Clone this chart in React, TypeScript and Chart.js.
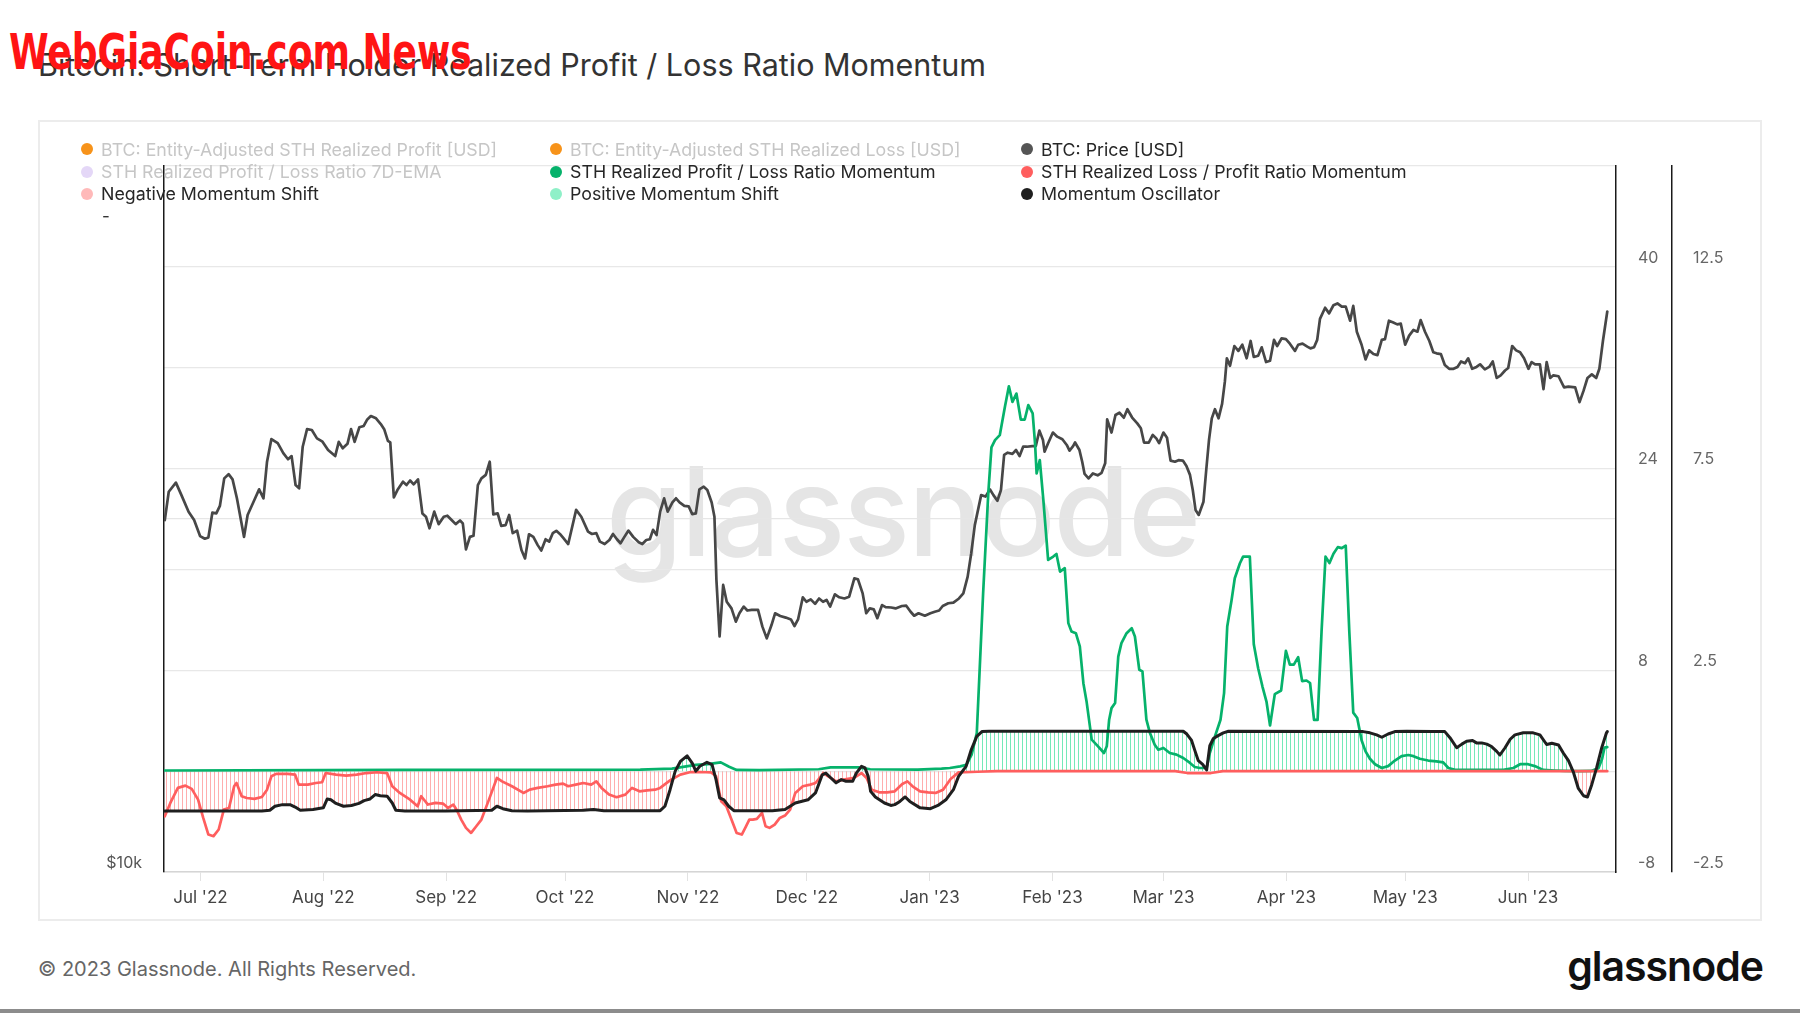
import React, { useEffect, useRef } from 'react';
import { Chart, registerables } from 'chart.js';

Chart.register(...registerables);

const FONT = 'Inter, "Noto Sans", sans-serif';

// x axis: day offset from 2022-06-22
const monthTickDays = [9, 40, 71, 101, 132, 162, 193, 224, 252, 283, 313, 344];
const monthTickLabels = ["Jul '22", "Aug '22", "Sep '22", "Oct '22", "Nov '22", "Dec '22", "Jan '23", "Feb '23", "Mar '23", "Apr '23", "May '23", "Jun '23"];

const priceTickValues = [10000, 20000, 40000];
const priceTickLabels = ['$10k', '', ''];
const ratioTickLabels = ['-8', '8', '24', '40'];
const oscTickLabels = ['-2.5', '2.5', '7.5', '12.5'];

// BTC: Price [USD]
const priceDays = [0, 1.0, 2.8, 4.2, 6.0, 7.4, 8.9, 10.1, 11.0, 12.0, 13.0, 13.9, 15.0, 16.1, 17.1, 18.2, 20.0, 20.9, 22.4, 23.8, 24.9, 25.8, 26.9, 28.5, 29.9, 31.1, 32.0, 33.0, 33.9, 34.8, 35.9, 37.1, 38.4, 39.8, 41.2, 43.0, 43.9, 44.9, 46.1, 47.0, 47.9, 49.1, 50.2, 51.1, 52.0, 53.3, 54.5, 55.4, 56.3, 56.9, 57.8, 58.7, 60.1, 61.0, 61.9, 62.8, 63.9, 65.0, 65.9, 66.8, 68.0, 69.1, 70.4, 71.3, 72.5, 73.4, 74.5, 75.2, 76.0, 77.0, 77.9, 79.0, 79.9, 81.0, 82.0, 82.9, 84.0, 84.9, 86.0, 86.9, 87.8, 88.9, 90.0, 90.9, 91.9, 93.0, 94.1, 95.0, 96.1, 97.0, 97.9, 98.8, 99.7, 100.6, 101.8, 103.8, 105.1, 106.8, 107.8, 108.9, 109.8, 111.0, 112.2, 113.1, 114.1, 115.0, 115.9, 117.0, 118.2, 119.6, 120.5, 121.5, 122.4, 123.2, 124.1, 125.0, 126.0, 126.9, 128.1, 129.0, 129.9, 131.1, 132.2, 133.1, 134.0, 134.9, 136.0, 136.9, 138.0, 138.7, 139.2, 140.0,
  140.9, 141.8, 143.0, 144.1, 145.0, 146.1, 147.0, 148.1, 149.7, 150.8, 151.9, 153.1, 154.0, 155.3, 156.7, 158.0, 158.9, 159.8, 161.0, 161.9, 163.0, 164.1, 165.1, 166.1, 167.0, 167.9, 169.1, 170.2, 171.5, 172.7, 174.0, 174.9, 176.1, 177.0, 177.9, 178.9, 179.8, 181.0, 181.9, 183.3, 184.4, 186.0, 187.1, 188.2, 189.1, 190.2, 191.8, 193.2, 194.3, 195.4, 196.3, 197.7, 199.0, 200.4, 201.5, 202.6, 203.5, 204.4, 206.0, 207.1, 208.2, 209.1, 210.1, 211.0, 211.8, 212.7, 213.9, 214.8, 215.7, 216.6, 217.5, 218.9, 219.8, 220.7, 221.6, 222.0, 222.9, 224.1, 225.2, 226.5, 227.6, 228.3, 229.2, 229.7, 230.8, 231.5, 232.1, 233.1, 234.2, 235.4, 236.4, 237.3, 237.8, 238.9, 239.9, 240.9, 242.0, 242.9, 244.1, 245.4, 246.3, 247.1, 248.3, 249.3, 250.2, 250.9, 252.0, 252.9, 253.8, 254.9, 255.8, 256.9, 257.8, 258.7, 259.4, 260.1, 260.9, 262.1, 262.8, 263.5, 264.2, 265.0, 265.9, 266.8, 267.5,
  268.0, 268.8, 269.9, 270.9, 271.9, 273.0, 274.0, 274.8, 275.9, 276.8, 277.9, 278.9, 279.9, 280.7, 281.8, 282.9, 283.9, 285.2, 286.0, 287.1, 288.3, 289.1, 290.0, 290.8, 291.5, 292.8, 293.8, 294.9, 295.9, 297.0, 298.0, 299.1, 299.9, 300.8, 302.0, 303.0, 303.9, 305.0, 306.0, 307.1, 307.9, 308.9, 310.0, 311.0, 311.9, 313.0, 314.0, 315.1, 316.1, 316.9, 318.0, 319.1, 320.1, 320.9, 322.0, 323.0, 324.1, 325.2, 326.2, 327.1, 328.1, 328.9, 329.9, 331.0, 331.9, 333.1, 334.2, 335.1, 336.1, 337.1, 338.2, 339.0, 340.0, 341.0, 342.0, 343.0, 344.1, 344.9, 345.8, 347.0, 347.9, 348.7, 349.6, 350.4, 351.7, 353.1, 354.2, 355.9, 357.0, 358.0, 359.0, 360.1, 361.2, 362.0, 362.9, 364.0];
const priceValues = [19960, 21100, 21480, 20960, 20290, 19960, 19340, 19240, 19290, 20250, 20220, 20520, 21660, 21840, 21620, 20830, 19310, 20160, 20690, 21200, 20830, 22380, 23400, 23210, 22760, 22490, 22630, 21380, 21240, 23050, 23860, 23820, 23430, 23280, 22900, 22630, 23270, 22980, 23180, 23860, 23270, 23950, 24010, 24320, 24480, 24370, 24100, 23840, 23320, 23250, 20870, 21170, 21520, 21380, 21570, 21410, 21620, 20220, 20090, 19640, 20290, 19800, 20090, 20130, 19940, 19800, 19940, 19830, 18840, 19310, 19350, 21380, 21660, 21810, 22380, 20180, 20220, 19730, 19760, 20160, 19450, 19550, 18820, 18510, 19410, 19310, 19000, 18800, 19220, 19130, 19450, 19540, 19420, 19260, 19040, 20360, 20090, 19510, 19420, 19450, 19130, 19040, 19190, 19420, 19220, 19070, 19290, 19550, 19310, 19110, 19040, 19190, 19220, 19580, 19380, 20290, 20830, 20290, 20660, 20830, 20660, 20520, 20500, 20190, 20220, 21200, 21310, 21170, 20660, 20090, 17740, 15880,
  17570, 17000, 16780, 16350, 16620, 16840, 16710, 16730, 16730, 16190, 15820, 16240, 16620, 16530, 16480, 16420, 16210, 16420, 17150, 17000, 17080, 16930, 17110, 17000, 17060, 16840, 17250, 17150, 17110, 17170, 17800, 17770, 17280, 16620, 16780, 16750, 16460, 16890, 16820, 16810, 16780, 16860, 16870, 16670, 16540, 16620, 16540, 16620, 16670, 16710, 16860, 16950, 16970, 17110, 17280, 17860, 18700, 19760, 20960, 20900, 21200, 20960, 20730, 21170, 22680, 22780, 22730, 22900, 22630, 23050, 23050, 23080, 23080, 23790, 23360, 22830, 23210, 23700, 23510, 23390, 23130, 22870, 23080, 23240, 22900, 22380, 21850, 21660, 21870, 21790, 21900, 22310, 24320, 23700, 24530, 24640, 24400, 24810, 24410, 24130, 23900, 23240, 23240, 23590, 23430, 23210, 23700, 23460, 22430, 22380, 22450, 22430, 22190, 21810, 21170, 20360, 20160, 20690, 22020, 23360, 24370, 24810, 24370, 25070, 26190,
  27420, 27020, 28090, 27820, 28160, 27420, 28370, 27490, 27560, 28020, 27220, 27290, 28430, 28090, 28510, 28470, 28220, 27820, 28160, 28220, 28060, 27960, 28020, 28430, 29630, 30280, 29950, 30430, 30540, 30350, 30350, 29520, 30390, 28890, 28160, 27360, 27850, 27650, 27590, 28430, 28470, 29520, 29420, 29310, 29350, 28160, 28670, 28990, 28890, 29560, 28890, 28370, 27750, 27690, 27650, 27060, 26860, 26860, 26960, 27250, 27160, 27420, 26860, 26960, 27100, 26830, 26960, 27250, 26380, 26520, 26770, 26900, 28090, 27850, 27750, 27420, 26860, 27220, 27100, 27100, 25810, 27220, 26380, 26520, 26470, 25900, 25940, 25900, 25160, 25720, 26380, 26570, 26380, 26860, 28370, 30060];

// STH Realized Profit / Loss Ratio Momentum
const profitDays = [0, 60, 120, 128, 134, 137, 140.3, 142.4, 144.3, 150, 165, 168, 175, 178, 190, 196, 198.1, 200.7, 202.3, 203.6, 204.9, 206.5, 207.8, 208.6, 209.5, 210.7, 212.0, 213.0, 213.9, 214.9, 216.0, 217.0, 217.9, 219.0, 219.6, 220.0, 220.8, 221.7, 222.9, 224.2, 225.0, 225.9, 227.1, 228.0, 228.8, 229.9, 230.9, 231.8, 232.6, 233.9, 235.5, 237.0, 237.7, 238.3, 238.9, 239.8, 240.6, 241.4, 242.7, 244.0, 244.8, 245.9, 246.7, 247.7, 248.6, 249.8, 250.7, 252.0, 253.6, 255.3, 257.0, 258.7, 259.9, 261.2, 262.9, 263.7, 265.0, 266.4, 267.3, 268.1, 269.2, 270.0, 271.3, 272.1, 273.8, 274.8, 275.9, 277.0, 278.0, 278.9, 280.1, 281.7, 282.9, 283.9, 284.9, 286.0, 287.0, 288.1, 289.0, 290.0, 290.9, 291.9, 292.9, 293.9, 294.9, 296.0, 297.0, 298.0, 298.9, 299.9, 300.9, 302.0, 303.0, 304.1, 305.4, 307.1, 308.7, 310.4, 312.1, 313.8, 315.1, 316.7, 318.8, 320.9, 322.6, 323.9, 325.6, 329.4, 333.6, 337.8, 340.3, 342.0, 344.0, 345.7, 347.8, 350.7, 353.2, 356.6, 360.0, 361.8, 362.7, 363.3, 364.0];
const profitValues = [0.05, 0.1, 0.12, 0.2, 0.5, 0.55, 0.7, 0.35, 0.1, 0.08, 0.15, 0.3, 0.3, 0.15, 0.12, 0.2, 0.25, 0.38, 0.51, 1.31, 3.02, 14.11, 22.03, 25.68, 26.26, 26.65, 28.9, 30.53, 29.29, 29.95, 27.89, 27.89, 29.03, 28.37, 25.99, 23.62, 24.67, 21.5, 16.75, 17.02, 17.23, 15.83, 16.1, 11.74, 11.08, 10.94, 9.89, 6.98, 5.53, 2.5, 1.97, 1.44, 1.97, 4.08, 5.0, 5.4, 9.08, 10.15, 10.94, 11.34, 10.68, 8.04, 7.91, 4.08, 3.02, 2.1, 1.7, 1.84, 1.44, 1.31, 1.04, 0.65, 0.33, 0.25, 0.25, 1.44, 2.76, 4.08, 6.19, 11.47, 13.58, 15.3, 16.49, 17.02, 17.01, 10.07, 8.16, 6.69, 5.52, 3.62, 6.11, 6.4, 9.54, 8.45, 8.45, 9.04, 7.14, 7.19, 6.99, 4.06, 4.06, 11.09, 17.01, 16.51, 17.24, 17.77, 17.69, 17.89, 11.09, 4.64, 4.21, 2.45, 1.57, 0.98, 0.55, 0.25, 0.4, 0.84, 1.19, 1.28, 1.19, 0.98, 0.84, 0.78, 0.69, 0.25, 0.1, 0.1, 0.1, 0.1, 0.25, 0.55, 0.55, 0.4, 0.1, 0.05, 0.02, 0, 0.02, 0.25, 0.98, 1.86, 1.9];

// STH Realized Loss / Profit Ratio Momentum
const lossDays = [0, 1.4, 3.3, 5.2, 6.8, 8.4, 9.7, 11.0, 12.3, 13.6, 14.9, 16.2, 17.5, 18.1, 19.4, 20.7, 22.6, 24.5, 25.8, 26.9, 28.1, 31.0, 32.9, 33.8, 36.1, 38.1, 39.7, 40.6, 43.2, 45.8, 48.4, 50.9, 53.5, 56.1, 57.4, 59.3, 61.9, 63.8, 64.7, 66.4, 68.3, 70.2, 71.5, 72.8, 73.7, 74.8, 76.0, 77.3, 78.6, 79.9, 81.8, 83.8, 85.1, 87.6, 90.5, 92.1, 94.1, 96.6, 98.6, 100.5, 101.8, 103.7, 105.6, 107.6, 108.9, 110.2, 112.1, 114.0, 116.2, 117.9, 119.8, 121.7, 123.7, 125.0, 127.5, 130.1, 132.7, 135.3, 137.8, 139.1, 140.4, 141.7, 143.0, 144.3, 145.6, 146.6, 147.5, 148.4, 149.4, 150.7, 151.6, 152.6, 153.9, 155.2, 156.5, 157.8, 159.1, 161.0, 162.9, 164.2, 166.2, 167.4, 169.4, 171.3, 173.9, 175.8, 177.1, 178.4, 180.3, 182.3, 184.2, 186.1, 187.4, 188.7, 190.6, 192.6, 194.5, 196.4, 198.3, 200.3, 205, 210, 255, 258, 264, 267, 364];
const lossValues = [-3.58, -2.52, -1.33, -1.15, -1.41, -2.26, -3.71, -5.03, -5.16, -4.63, -3.05, -2.92, -1.2, -0.94, -1.99, -2.13, -2.2, -2.05, -1.47, -0.41, -0.22, -0.22, -0.28, -1.07, -1.07, -0.94, -0.88, -0.15, -0.28, -0.36, -0.28, -0.15, -0.09, -0.15, -1.2, -1.73, -2.26, -2.79, -1.99, -2.65, -2.52, -2.57, -2.92, -2.65, -3.1, -3.84, -4.5, -4.9, -4.37, -3.84, -2.26, -0.54, -0.81, -1.2, -1.73, -1.47, -1.33, -1.2, -1.07, -0.99, -1.2, -1.07, -0.94, -1.07, -0.81, -1.33, -1.86, -2.07, -1.86, -1.33, -1.6, -1.52, -1.47, -1.33, -0.73, -0.28, -0.07, -0.07, -0.09, -0.41, -2.39, -2.79, -3.84, -4.9, -5.03, -4.42, -3.84, -3.84, -3.79, -3.31, -4.37, -4.5, -4.24, -3.71, -3.52, -3.05, -1.73, -1.2, -1.07, -0.94, -0.15, -0.41, -0.81, -0.67, -0.54, -0.15, -0.54, -1.47, -1.68, -1.68, -1.6, -1.02, -0.81, -1.2, -1.6, -1.68, -1.73, -1.47, -0.62, -0.1, -0.05, 0, 0, -0.15, -0.15, 0, 0];

// Momentum Oscillator (Positive / Negative Momentum Shift = area between it and zero)
const oscDays = [0, 24.5, 26.5, 27.8, 29.7, 31.6, 32.9, 34.2, 37.4, 40.0, 41.0, 41.9, 43.2, 45.1, 47.1, 49.0, 50.3, 51.8, 53.1, 54.4, 56.1, 57.4, 58.3, 60.6, 70.9, 82.5, 83.8, 85.3, 87.6, 91.5, 105.6, 108.2, 110.8, 125.0, 126.2, 127.5, 128.8, 130.1, 131.8, 133.1, 134.0, 135.0, 136.8, 138.1, 139.1, 140.0, 141.1, 142.3, 143.6, 153.3, 156.5, 159.1, 162.3, 164.2, 165.9, 166.8, 168.1, 169.4, 170.7, 171.9, 173.6, 174.5, 175.8, 176.7, 177.5, 178.1, 179.3, 181.6, 183.2, 184.2, 185.5, 186.8, 188.0, 190.6, 193.2, 195.1, 197.1, 199.0, 200.3, 202.2, 203.5, 204.9, 206.2, 208.0, 257.0, 257.9, 259.1, 260.0, 260.8, 261.9, 262.9, 263.7, 264.6, 265.8, 267.1, 268.4, 302.4, 304.1, 305.8, 307.1, 308.7, 310.4, 313.4, 320.1, 323.0, 324.3, 326.0, 327.3, 328.5, 330.0, 331.0, 332.3, 333.6, 334.8, 336.1, 336.9, 338.2, 339.5, 340.7, 342.8, 345.3, 347.0, 348.7, 350.0, 351.7, 352.9, 354.2, 355.4, 356.7, 358.0, 359.0, 360.1, 361.3, 362.6, 363.8, 364.0];
const oscValues = [-0.99, -0.99, -0.97, -0.87, -0.83, -0.83, -0.89, -0.97, -0.95, -0.91, -0.69, -0.71, -0.8, -0.87, -0.85, -0.8, -0.73, -0.69, -0.58, -0.61, -0.62, -0.79, -0.97, -0.99, -0.99, -0.97, -0.87, -0.93, -0.98, -0.99, -0.97, -0.95, -0.98, -0.98, -0.87, -0.46, 0.0, 0.24, 0.38, 0.2, 0.0, 0.12, 0.22, 0.16, -0.21, -0.66, -0.71, -0.87, -0.98, -0.98, -0.95, -0.79, -0.71, -0.54, -0.09, -0.05, -0.17, -0.29, -0.21, -0.25, -0.25, -0.05, 0.12, 0.08, -0.13, -0.5, -0.64, -0.79, -0.85, -0.83, -0.75, -0.64, -0.75, -0.91, -0.93, -0.85, -0.71, -0.46, -0.13, 0.12, 0.53, 0.86, 0.98, 0.99, 0.99, 0.92, 0.76, 0.49, 0.26, 0.17, 0.03, 0.63, 0.81, 0.88, 0.95, 0.99, 0.98, 0.95, 0.9, 0.84, 0.92, 0.98, 0.99, 0.98, 0.98, 0.83, 0.58, 0.67, 0.74, 0.76, 0.7, 0.7, 0.67, 0.61, 0.49, 0.4, 0.58, 0.79, 0.9, 0.95, 0.95, 0.9, 0.66, 0.69, 0.65, 0.45, 0.26, -0.01, -0.43, -0.61, -0.64, -0.33, 0.08, 0.58, 0.95, 0.98];

const legendItems = [
  { label: 'BTC: Entity-Adjusted STH Realized Profit [USD]', color: '#f7931a', hidden: true },
  { label: 'BTC: Entity-Adjusted STH Realized Loss [USD]', color: '#f7931a', hidden: true },
  { label: 'BTC: Price [USD]', color: '#555555', hidden: false },
  { label: 'STH Realized Profit / Loss Ratio 7D-EMA', color: '#e4d7f7', hidden: true },
  { label: 'STH Realized Profit / Loss Ratio Momentum', color: '#06b26b', hidden: false },
  { label: 'STH Realized Loss / Profit Ratio Momentum', color: '#ff5e5e', hidden: false },
  { label: 'Negative Momentum Shift', color: '#ffb9b9', hidden: false },
  { label: 'Positive Momentum Shift', color: '#8ff0c8', hidden: false },
  { label: 'Momentum Oscillator', color: '#1f1f1f', hidden: false },
];

const toPoints = (xs: number[], ys: number[]) => xs.map((x, i) => ({ x, y: ys[i] }));

export default function App() {
  const canvasRef = useRef<HTMLCanvasElement>(null);

  useEffect(() => {
    const canvas = canvasRef.current;
    if (!canvas) return;
    const ctx = canvas.getContext('2d')!;
    const makeHatch = (color: string) => {
      const c = document.createElement('canvas');
      c.width = 4;
      c.height = 8;
      const g = c.getContext('2d')!;
      g.fillStyle = color;
      g.fillRect(0, 0, 1, 8);
      return ctx.createPattern(c, 'repeat')!;
    };
    const mint = makeHatch('rgba(110, 232, 180, 0.95)');
    const pink = makeHatch('rgba(255, 165, 165, 0.9)');

    const labelFont = { family: FONT, size: 16 };

    const chart = new Chart(canvas, {
      type: 'line',
      data: {
        datasets: [
          {
            label: 'Momentum Oscillator',
            data: toPoints(oscDays, oscValues),
            yAxisID: 'y2',
            borderColor: '#1f1f1f',
            borderWidth: 3,
            pointRadius: 0,
            fill: { target: { value: 0 }, above: mint, below: pink },
            order: 0,
          },
          {
            label: 'STH Realized Loss / Profit Ratio Momentum',
            data: toPoints(lossDays, lossValues),
            yAxisID: 'y1',
            borderColor: '#ff5e5e',
            borderWidth: 2.7,
            pointRadius: 0,
            fill: false,
            order: 1,
          },
          {
            label: 'STH Realized Profit / Loss Ratio Momentum',
            data: toPoints(profitDays, profitValues),
            yAxisID: 'y1',
            borderColor: '#06b26b',
            borderWidth: 2.7,
            pointRadius: 0,
            fill: false,
            order: 2,
          },
          {
            label: 'BTC: Price [USD]',
            data: toPoints(priceDays, priceValues),
            yAxisID: 'y',
            borderColor: '#474747',
            borderWidth: 2.7,
            pointRadius: 0,
            fill: false,
            order: 3,
          },
        ],
      },
      options: {
        responsive: false,
        maintainAspectRatio: false,
        animation: false,
        events: [],
        layout: { padding: { top: 45, left: 0, right: 0, bottom: 0 } },
        elements: { line: { tension: 0, borderJoinStyle: 'round', borderCapStyle: 'round' }, point: { radius: 0 } },
        plugins: {
          legend: { display: false },
          title: { display: false },
          tooltip: { enabled: false },
          filler: { drawTime: 'beforeDatasetsDraw' },
        },
        scales: {
          x: {
            type: 'linear',
            min: -0.2,
            max: 366.2,
            afterBuildTicks: (s: any) => {
              s.ticks = monthTickDays.map((v) => ({ value: v }));
            },
            afterFit: (s: any) => {
              s.height = 49;
            },
            ticks: {
              autoSkip: false,
              maxRotation: 0,
              minRotation: 0,
              padding: 7,
              color: '#444',
              font: { family: FONT, size: 17 },
              callback: (v: any) => {
                const i = monthTickDays.indexOf(Number(v));
                return i >= 0 ? monthTickLabels[i] : '';
              },
            },
            grid: { drawOnChartArea: false, drawTicks: true, tickLength: 9, color: '#e2e2e2', lineWidth: 1 },
            border: { display: true, color: '#d5d5d5', width: 1.5 },
          },
          y: {
            type: 'logarithmic',
            position: 'left',
            min: 10000,
            max: 40000,
            afterBuildTicks: (s: any) => {
              s.ticks = priceTickValues.map((v) => ({ value: v }));
            },
            afterFit: (s: any) => {
              s.width = 126;
            },
            ticks: {
              padding: 22,
              labelOffset: -9,
              color: '#555',
              font: labelFont,
              callback: (v: any) => {
                const i = priceTickValues.indexOf(Number(v));
                return i >= 0 ? priceTickLabels[i] : '';
              },
            },
            grid: {
              drawTicks: false,
              lineWidth: 1.2,
              color: (c: any) => (c.tick && c.tick.value === 20000 ? '#e6e6e6' : 'rgba(0,0,0,0)'),
            },
            border: { display: true, color: '#1a1a1a', width: 1.5 },
          },
          y1: {
            type: 'linear',
            position: 'right',
            weight: 1,
            min: -8,
            max: 48,
            afterFit: (s: any) => {
              s.width = 56;
            },
            ticks: {
              stepSize: 8,
              padding: 22,
              labelOffset: -9,
              color: '#666',
              font: labelFont,
              callback: (v: any) => (ratioTickLabels.includes(String(v)) ? String(v) : ''),
            },
            grid: { display: false, drawTicks: false },
            border: { display: true, color: '#1a1a1a', width: 1.5 },
          },
          y2: {
            type: 'linear',
            position: 'right',
            weight: 2,
            min: -2.5,
            max: 15,
            afterFit: (s: any) => {
              s.width = 90;
            },
            ticks: {
              stepSize: 2.5,
              padding: 21,
              labelOffset: -9,
              color: '#666',
              font: labelFont,
              callback: (v: any) => (oscTickLabels.includes(String(v)) ? String(v) : ''),
            },
            grid: { drawTicks: false, color: '#e8e8e8', lineWidth: 1.2 },
            border: { display: true, color: '#1a1a1a', width: 1.5 },
          },
        },
      } as any,
    });
    return () => chart.destroy();
  }, []);

  const colX = [87, 556, 1027];
  const rowY = [149, 171.5, 193.5];

  return (
    <div style={{ position: 'fixed', left: 0, top: 0, width: 1800, height: 1013, background: '#fff', overflow: 'hidden', fontFamily: FONT }}>
      <div style={{ position: 'absolute', left: 38, top: 50, fontSize: 30.5, lineHeight: '30px', color: '#333', whiteSpace: 'nowrap' }}>
        Bitcoin: Short-Term Holder Realized Profit / Loss Ratio Momentum
      </div>
      <div
        style={{
          position: 'absolute',
          left: 9,
          top: 27,
          fontFamily: '"Liberation Sans Narrow", "DejaVu Sans Condensed", sans-serif',
          fontWeight: 700,
          fontSize: 50,
          lineHeight: '50px',
          color: '#ff1414',
          whiteSpace: 'nowrap',
          zIndex: 5,
          transform: 'scaleX(0.8)',
          transformOrigin: '0 0',
        }}
      >
        WebGiaCoin.com News
      </div>

      <div style={{ position: 'absolute', left: 38, top: 120, width: 1720, height: 797, border: '2px solid #ececec' }} />

      <div
        style={{
          position: 'absolute',
          left: 606,
          top: 441,
          fontFamily: FONT,
          fontWeight: 500,
          fontSize: 124,
          lineHeight: '140px',
          color: '#e5e5e5',
          letterSpacing: -2,
          whiteSpace: 'nowrap',
        }}
      >
        glassnode
      </div>

      <canvas ref={canvasRef} width={1724} height={800} style={{ position: 'absolute', left: 38, top: 121, width: 1724, height: 800, zIndex: 1 }} />

      <div style={{ position: 'absolute', left: 0, top: 0, zIndex: 2 }}>
        {legendItems.map((item, i) => {
          const c = i % 3;
          const r = Math.floor(i / 3);
          return (
            <div
              key={item.label}
              style={{
                position: 'absolute',
                left: colX[c] - 6,
                top: rowY[r] - 11,
                height: 22,
                display: 'flex',
                alignItems: 'center',
                whiteSpace: 'nowrap',
                fontSize: 17.8,
                color: item.hidden ? '#c6c6c6' : '#262626',
              }}
            >
              <span style={{ display: 'inline-block', width: 12, height: 12, borderRadius: '50%', background: item.color, marginRight: 8 }} />
              {item.label}
            </div>
          );
        })}
        <div style={{ position: 'absolute', left: 102, top: 205, fontSize: 17, lineHeight: '22px', color: '#333' }}>-</div>
      </div>

      <div style={{ position: 'absolute', left: 38, top: 956, fontSize: 20, lineHeight: '26px', color: '#666', whiteSpace: 'nowrap' }}>
        © 2023 Glassnode. All Rights Reserved.
      </div>
      <div
        style={{
          position: 'absolute',
          right: 1800 - 1763,
          top: 943,
          fontSize: 41,
          lineHeight: '46px',
          fontWeight: 600,
          letterSpacing: -1,
          color: '#111',
          whiteSpace: 'nowrap',
        }}
      >
        glassnode
      </div>
      <div style={{ position: 'absolute', left: 0, top: 1009, width: 1800, height: 4, background: '#8c8c8c' }} />
    </div>
  );
}
